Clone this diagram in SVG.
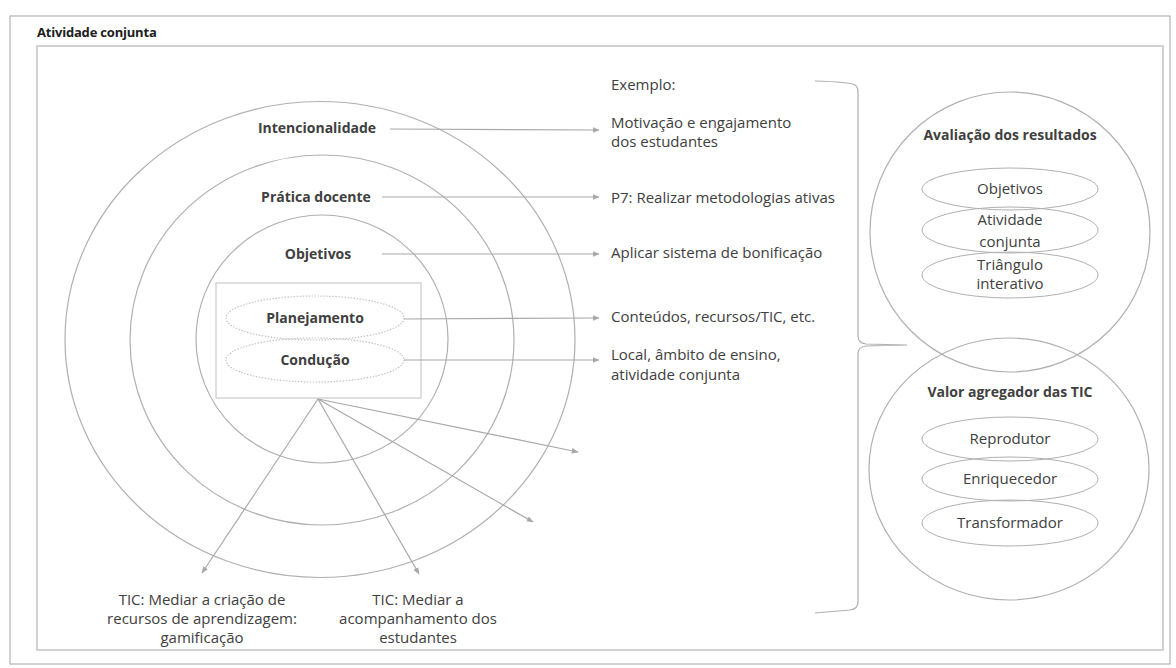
<svg xmlns="http://www.w3.org/2000/svg" width="1176" height="668" viewBox="0 0 1176 668">
<style>
.frame{fill:none;stroke:#b4b4b4;stroke-width:1.2}
.c{fill:none;stroke:#b0b0b0;stroke-width:1.2}
.dot{fill:none;stroke:#c4c4c4;stroke-width:1.2;stroke-dasharray:1.5 1.5}
.e{fill:none;stroke:#b0b0b0;stroke-width:1}
.ln{fill:none;stroke:#a8a8a8;stroke-width:1.2;marker-end:url(#ah)}
text{font-family:"Open Sans","Liberation Sans",sans-serif;fill:#404040;font-size:15px}
.b{font-weight:bold;font-size:14px}
.m{text-anchor:middle}
</style>
<defs>
<marker id="ah" viewBox="0 0 10 10" refX="9" refY="5" markerWidth="7" markerHeight="7" markerUnits="userSpaceOnUse" orient="auto">
<path d="M0,1 L10,5 L0,9 z" fill="#a8a8a8"/>
</marker>
</defs>
<rect class="frame" x="10" y="16" width="1160" height="648"/>
<text x="37" y="37" class="b" style="font-size:13px;fill:#202020;letter-spacing:-0.2px">Atividade conjunta</text>
<rect class="frame" x="37" y="46" width="1126" height="604"/>

<g id="circles">
<ellipse class="c" cx="320" cy="339.5" rx="255" ry="238"/>
<ellipse class="c" cx="322" cy="340" rx="192" ry="185"/>
<ellipse class="c" cx="322" cy="339" rx="126" ry="124"/>
<rect x="216" y="283" width="205" height="115" fill="none" stroke="#c0c0c0" stroke-width="1"/>
</g>
<g id="intencionalidade"><text x="317" y="133" class="b m">Intencionalidade</text></g>
<g id="pratica"><text x="316" y="202" class="b m">Prática docente</text></g>
<g id="objetivos"><text x="318" y="259" class="b m">Objetivos</text></g>
<g id="planejamento"><ellipse class="dot" cx="315" cy="318" rx="89" ry="22"/><text x="315" y="323" class="b m">Planejamento</text></g>
<g id="conducao"><ellipse class="dot" cx="315" cy="360" rx="89" ry="22"/><text x="315" y="365" class="b m">Condução</text></g>

<g id="exemplos">
<text x="611" y="90">Exemplo:</text>
<text x="611" y="128">Motivação e engajamento</text>
<text x="611" y="147">dos estudantes</text>
<text x="611" y="203">P7: Realizar metodologias ativas</text>
<text x="611" y="258">Aplicar sistema de bonificação</text>
<text x="611" y="322">Conteúdos, recursos/TIC, etc.</text>
<text x="611" y="360">Local, âmbito de ensino,</text>
<text x="611" y="380">atividade conjunta</text>
</g>

<g id="tic1"><text class="m" x="202" y="605">TIC: Mediar a criação de</text><text class="m" x="202" y="624">recursos de aprendizagem:</text><text class="m" x="202" y="643">gamificação</text></g>
<g id="tic2"><text class="m" x="418" y="605">TIC: Mediar a</text><text class="m" x="418" y="624">acompanhamento dos</text><text class="m" x="418" y="643">estudantes</text></g>

<g id="connectors">
<line class="ln" x1="390" y1="129" x2="599" y2="130"/>
<line class="ln" x1="382" y1="197" x2="599" y2="197"/>
<line class="ln" x1="382" y1="254" x2="599" y2="254"/>
<line class="ln" x1="404" y1="319" x2="599" y2="318"/>
<line class="ln" x1="404" y1="360" x2="599" y2="360"/>
<line class="ln" x1="318" y1="399" x2="202" y2="573"/>
<line class="ln" x1="318" y1="399" x2="419" y2="574"/>
<line class="ln" x1="318" y1="399" x2="533" y2="522"/>
<line class="ln" x1="318" y1="399" x2="578" y2="452"/>
<path d="M815,81 Q850,82 855,85 Q858,87 858,92 L858,336 Q858,343 866,344 L907,345 L866,346 Q858,347 858,354 L858,602 Q858,609 850,610 L815,613" fill="none" stroke="#b0b0b0" stroke-width="1.2"/>
</g>

<g id="avaliacao">
<ellipse class="c" cx="1010" cy="232" rx="140" ry="140"/>
<text x="1010" y="140" class="b m">Avaliação dos resultados</text>
<ellipse class="e" cx="1010" cy="189" rx="88" ry="21"/>
<text x="1010" y="194" class="m">Objetivos</text>
<ellipse class="e" cx="1010" cy="230" rx="88" ry="23"/>
<text x="1010" y="225" class="m">Atividade</text>
<text x="1010" y="247" class="m">conjunta</text>
<ellipse class="e" cx="1010" cy="275" rx="88" ry="23"/>
<text x="1010" y="270" class="m">Triângulo</text>
<text x="1010" y="289" class="m">interativo</text>
</g>
<g id="valor">
<ellipse class="c" cx="1009" cy="469" rx="140" ry="131"/>
<text x="1010" y="397" class="b m">Valor agregador das TIC</text>
<ellipse class="e" cx="1010" cy="439" rx="88" ry="22"/>
<text x="1010" y="444" class="m">Reprodutor</text>
<ellipse class="e" cx="1010" cy="479" rx="88" ry="22"/>
<text x="1010" y="484" class="m">Enriquecedor</text>
<ellipse class="e" cx="1010" cy="523" rx="88" ry="23"/>
<text x="1010" y="528" class="m">Transformador</text>
</g>
</svg>
